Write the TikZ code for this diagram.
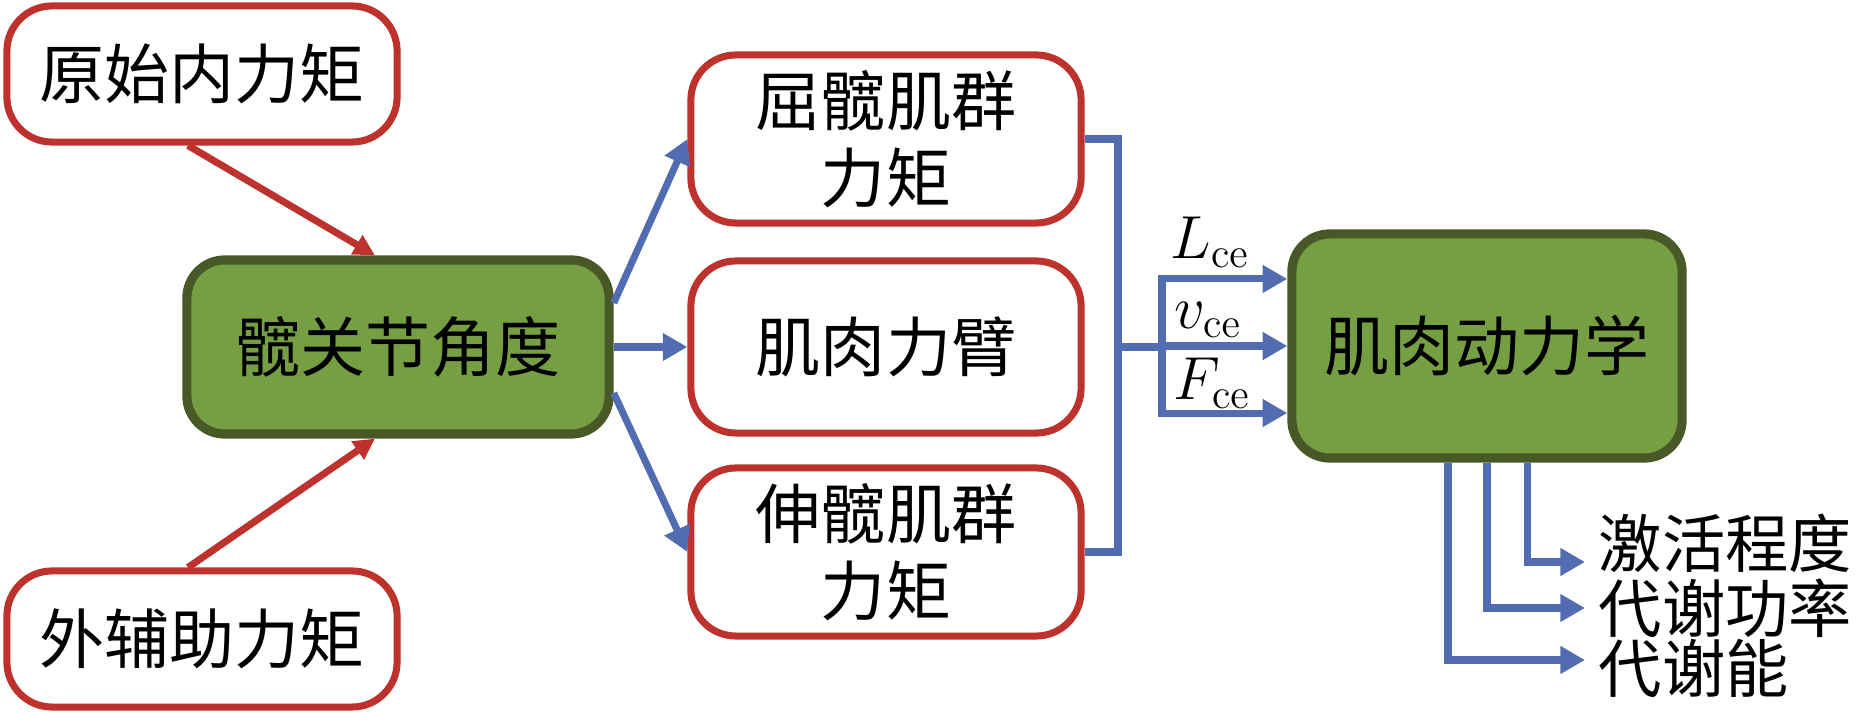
\documentclass[tikz,border=0pt]{standalone}
\usepackage[no-math]{fontspec}
\setmainfont{Noto Sans CJK SC}
\usetikzlibrary{arrows.meta}
\definecolor{boxred}{RGB}{190,50,45}
\definecolor{linkblue}{RGB}{82,108,178}
\definecolor{leafgreen}{RGB}{118,159,67}
\definecolor{darkgreen}{RGB}{72,88,38}

\begin{document}
\begin{tikzpicture}[x=0.01cm, y=-0.01cm, every node/.style={align=center, font=\fontsize{18.5}{22}\selectfont}]
	\tikzset{redbox/.style={draw=boxred, line width=2pt, fill=white, rounded corners=0.45cm, minimum width=3.9cm, minimum height=1.68cm},
		greenbox/.style={draw=darkgreen, line width=2.6pt, fill=leafgreen, rounded corners=0.38cm},
		redarr/.style={draw=boxred, line width=2pt, -{Triangle[length=6pt,width=6pt]}},
		bluearr/.style={draw=linkblue, line width=2pt, -{Triangle[length=7pt,width=7.5pt]}},
		blueline/.style={draw=linkblue, line width=2pt},
		outtext/.style={anchor=west, inner sep=0pt, font=\fontsize{18}{22}\selectfont}}
	\useasboundingbox (0,0) rectangle (1863,713);
	\node[redbox, minimum height=1.36cm] (orig) at (202,74)   {原始内力矩};
	\node[redbox, minimum height=1.36cm] (assist) at (202,639) {外辅助力矩};
	\node[greenbox, minimum width=4.22cm, minimum height=1.74cm] (hip) at (398,347) {髋关节角度};
	\node[redbox] (flex) at (886,139) {屈髋肌群\\力矩};
	\node[redbox, minimum height=1.72cm] (arm) at (886,347) {肌肉力臂};
	\node[redbox] (ext) at (886,552)  {伸髋肌群\\力矩};
	\node[greenbox, minimum width=3.9cm, minimum height=2.24cm] (dyn) at (1487,346) {肌肉动力学};
	\node (lce) at (1210,242) {$L_{\mathrm{ce}}$};
	\node (vce) at (1208,320) {$v_{\mathrm{ce}}$};
	\node (fce) at (1212,383) {$F_{\mathrm{ce}}$};
	\node[outtext] (act) at (1598,543)    {激活程度};
	\node[outtext] (pow) at (1598,608)    {代谢功率};
	\node[outtext] (energy) at (1598,668) {代谢能};
	\coordinate (bus) at (1118,347);
	\coordinate (fan) at (1162,347);
	\foreach \from/\to in {orig.south/hip.north, assist.north/hip.south}
	\draw[redarr] ([xshift=-0.14cm]\from) -- ([xshift=-0.23cm]\to);
	\draw[bluearr] ([yshift=0.44cm]hip.east) -- (flex.west);
	\draw[bluearr] (hip.east) -- (arm.west);
	\draw[bluearr] ([yshift=-0.46cm]hip.east) -- (ext.west);
	\draw[blueline] (flex.east) -| (bus) |- (ext.east);
	\draw[blueline] (bus) -- (fan);
	\foreach \dy in {0.67,0,-0.67}
	\draw[bluearr] (fan) |- ([yshift=\dy cm]dyn.west);
	\foreach \dx/\to/\dy in {0.4/act/-0.19, 0/pow/0, -0.39/energy/0.08}
	\draw[bluearr] ([xshift=\dx cm]dyn.south) |- ([xshift=-0.13cm, yshift=\dy cm]\to.west);
\end{tikzpicture}
\end{document}
